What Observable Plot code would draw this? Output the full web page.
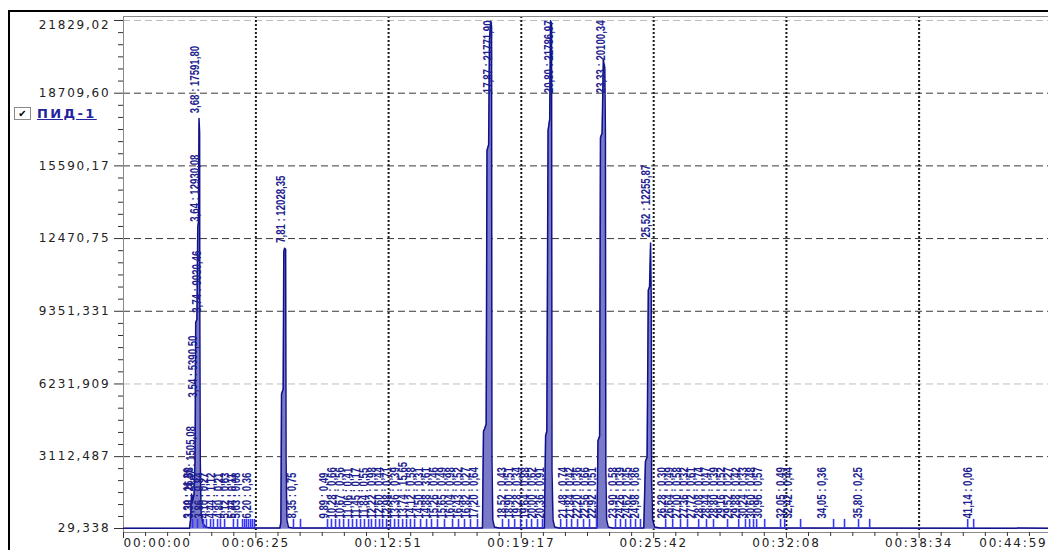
<!DOCTYPE html>
<html><head><meta charset="utf-8">
<script src="https://cdn.jsdelivr.net/npm/d3@7"></script>
<script src="https://cdn.jsdelivr.net/npm/@observablehq/plot@0.6"></script>
<style>
html,body{margin:0;padding:0;background:#fff;}
#wrap{position:relative;width:1048px;height:550px;overflow:hidden;}
#border{position:absolute;left:8px;top:10px;width:1040px;height:540px;border-left:2px solid #000;border-top:2px solid #000;}
#legend{position:absolute;left:14px;top:106px;display:flex;align-items:center;font-family:"DejaVu Sans",sans-serif;}
#chk{width:15px;height:11px;border:1px solid #8a8a8a;background:#fff;font-size:10px;line-height:11px;text-align:center;color:#000;}
#lbl{margin-left:6px;font-size:13px;font-weight:bold;color:#2424a0;text-decoration:underline;letter-spacing:2.4px;}
#chart{position:absolute;left:0;top:0;}
</style>
</head><body>
<div id="wrap">
  <div id="border"></div>
  <div id="chart"></div>
  <div id="legend"><div id="chk">✔</div><div id="lbl">ПИД-1</div></div>
</div>
<script>
// ---- axis ticks ----
const yTickValues = [29.338, 3112.487, 6231.909, 9351.331, 12470.75, 15590.17, 18709.60, 21829.02];
const yTickLabels = ["29,338", "3112,487", "6231,909", "9351,331", "12470,75", "15590,17", "18709,60", "21829,02"];
const xTickValues = [0, 6.4167, 12.85, 19.2833, 25.7, 32.1333, 38.5667, 44.9833];
const xTickLabels = ["00:00:00", "00:06:25", "00:12:51", "00:19:17", "00:25:42", "00:32:08", "00:38:34", "00:44:59"];

// ---- detector trace (minutes, signal) ----
const traceTimes = [0, 3.20, 3.25, 3.30, 3.35, 3.42, 3.47, 3.50, 3.56, 3.60, 3.64, 3.66, 3.69, 3.70, 3.72, 3.76, 3.85, 4.00, 4.30,
  7.58, 7.63, 7.66, 7.74, 7.77, 7.81, 7.86, 7.88, 7.92, 8.00, 8.20,
  17.40, 17.45, 17.50, 17.58, 17.62, 17.70, 17.74, 17.80, 17.84, 17.86, 17.90, 17.98, 18.20,
  20.40, 20.46, 20.52, 20.58, 20.66, 20.70, 20.75, 20.77, 20.82, 20.90, 21.10,
  22.95, 23.00, 23.08, 23.12, 23.20, 23.26, 23.33, 23.36, 23.38, 23.42, 23.50, 23.70,
  25.22, 25.30, 25.38, 25.44, 25.50, 25.55, 25.58, 25.60, 25.65, 25.75, 26.00,
  44.9833];
const traceValues = [45, 45, 400, 1505, 1200, 1500, 3000, 8870, 9000, 12960, 13200, 17621, 17000, 9000, 3000, 700, 250, 80, 50,
  50, 300, 5800, 6000, 11900, 12058, 12000, 3000, 400, 80, 50,
  50, 4200, 4300, 4500, 16250, 16500, 21000, 21801, 21600, 3000, 400, 90, 50,
  50, 4000, 4200, 17100, 17600, 21816, 21700, 2500, 400, 90, 50,
  50, 3800, 4000, 16800, 17000, 20130, 19800, 17000, 2500, 400, 90, 50,
  50, 2900, 3100, 10250, 10400, 12285, 10000, 2000, 400, 90, 50,
  45];

// ---- labelled main peaks ----
const majorTimes = [3.47, 3.54, 3.64, 3.68, 3.74, 7.81, 17.87, 20.80, 23.33, 25.52];
const majorHeights = [1505.08, 5390.50, 12930.08, 17591.80, 9030.46, 12028.35, 21771.90, 21786.97, 20100.34, 12255.87];

// ---- labelled small peaks ----
const smallTimes = [3.30, 3.38, 3.86, 4.10, 4.44, 4.80, 5.12, 5.44, 5.63, 6.20, 8.35, 9.89, 10.28, 10.67, 11.06, 11.45, 11.84, 12.22, 12.60, 12.98,
  13.36, 13.74, 14.12, 14.50, 14.88, 15.26, 15.65, 16.04, 16.43, 16.82, 17.20, 18.52, 18.90, 19.28, 19.64, 20.00, 20.36, 21.48, 21.84, 22.20,
  22.56, 22.92, 23.90, 24.26, 24.62, 24.98, 26.28, 26.64, 27.00, 27.36, 27.72, 28.08, 28.44, 28.80, 29.16, 29.52, 29.88, 30.24, 30.60, 30.96,
  32.05, 32.42, 34.05, 35.80, 41.14];
const smallValues = [11.30, 26.58, 0.84, 0.27, 1.12, 0.21, 0.63, 0.11, 0.08, 0.36, 0.75, 0.49, 0.66, 0.56, 0.41, 0.17, 0.55, 0.98, 0.44, 0.71,
  0.39, 15.65, 0.58, 0.31, 3.61, 0.46, 0.49, 0.98, 0.52, 0.27, 0.64, 0.43, 0.51, 0.34, 0.88, 0.62, 0.91, 0.74, 0.42, 0.36,
  0.66, 0.51, 0.58, 0.39, 0.45, 0.86, 0.30, 0.49, 0.58, 0.32, 0.61, 0.74, 0.47, 0.39, 0.52, 0.27, 0.42, 0.33, 0.48, 0.57,
  0.49, 0.44, 0.36, 0.25, 0.06];

// ---- peak markers near the baseline ----
const markerTimes = [3.35, 3.59, 3.88, 4.02, 4.22, 4.36, 4.56, 4.70, 4.90, 5.33, 5.53, 5.77, 5.87, 5.96, 6.06, 6.16, 6.25, 6.35,
  8.24, 8.58, 9.89, 10.08, 10.28, 10.47, 10.67, 10.91, 11.10, 11.30, 11.49, 11.68, 11.88, 12.02, 12.22, 12.41, 12.56, 12.75, 12.94,
  13.14, 13.33, 13.53, 13.72, 13.91, 14.11, 14.40, 14.69, 14.93, 15.22, 15.56, 15.95, 16.24, 16.53, 16.82, 17.16,
  18.37, 18.67, 18.96, 19.25, 19.54, 19.78, 20.07, 20.31, 21.19, 21.48, 21.72, 22.01, 22.30, 22.59, 22.93,
  23.85, 24.09, 24.34, 24.58, 24.82, 25.06, 26.28, 26.62, 27.00, 27.34, 27.88, 28.26, 28.60, 29.28, 29.82, 30.15, 30.35,
  30.54, 30.69, 31.08, 31.85, 32.05, 32.82, 34.42, 34.95, 35.63, 36.17, 40.92, 41.21];

const yMin = yTickValues[0], yMax = yTickValues[yTickValues.length - 1];
const fmt = v => d3.format(".2f")(v).replace(".", ",");
const trace = traceTimes.map((t, i) => ({t, v: traceValues[i]}));
const major = majorTimes.map((t, i) => ({t, h: majorHeights[i], label: `${fmt(t)} : ${fmt(majorHeights[i])}`}));
const small = smallTimes.map((t, i) => ({t, label: `${fmt(t)} : ${fmt(smallValues[i])}`}));
const yLabel = new Map(yTickValues.map((v, i) => [v, yTickLabels[i]]));
const xLabel = new Map(xTickValues.map((v, i) => [v, xTickLabels[i]]));

const sub = (ticks, n) => d3.pairs(ticks).flatMap(([a, b]) => d3.range(1, n).map(k => a + (b - a) * k / n));
const yMinor = sub(yTickValues, 6);
const xMinor = sub(xTickValues, 6);

const axisFont = "DejaVu Sans";
const peakFont = "Liberation Sans";
const tall = major.filter(d => d.h > 19000);
const normal = major.filter(d => d.h <= 19000);
const peakText = {fill: "#1e1e90", fontSize: 13, fontWeight: "bold", fontFamily: peakFont, rotate: -90, lineAnchor: "bottom", text: "label"};

const chart = Plot.plot({
  width: 1048, height: 550,
  marginLeft: 123, marginRight: -3, marginTop: 16, marginBottom: 18,
  insetTop: 4, insetBottom: 4,
  x: {domain: [0, xTickValues[xTickValues.length - 1]], label: null},
  y: {domain: [yMin, yMax], label: null},
  style: {fontFamily: axisFont, fontSize: "12px", color: "#222", background: "transparent", overflow: "visible"},
  marks: [
    Plot.ruleY(yTickValues.filter(v => v !== yMax && v !== 6231.909 && v !== yMin), {stroke: "#3a3a3a", strokeDasharray: "7,4"}),
    Plot.ruleY([yMax, 6231.909], {stroke: "#bdbdbd", strokeDasharray: "7,4"}),
    Plot.ruleX(xTickValues.slice(1), {stroke: "#1a1a1a", strokeWidth: 2, strokeDasharray: "2,2"}),
    Plot.frame({stroke: "#8a8a8a"}),
    Plot.areaY(trace, {x: "t", y: "v", fill: "#7a7ac8"}),
    Plot.line(trace, {x: "t", y: "v", stroke: "#10108a", strokeWidth: 1.5}),
    Plot.ruleX(markerTimes, {x: d => d, y1: yMin, y2: 420, stroke: "#3636ff", strokeWidth: 1.6}),
    Plot.text(normal, {...peakText, x: "t", y: "h", textAnchor: "start", dy: -6}),
    Plot.text(tall, {...peakText, x: "t", frameAnchor: "top", textAnchor: "end", dy: 4}),
    Plot.text(small, {...peakText, x: "t", frameAnchor: "bottom", textAnchor: "start", dy: -14}),
    Plot.axisY(yTickValues, {tickSize: 9, tickFormat: () => "", stroke: "#333"}),
    Plot.axisY(yMinor, {tickSize: 5, tickFormat: () => "", stroke: "#333"}),
    Plot.axisX(xTickValues, {tickSize: 6, tickFormat: () => "", stroke: "#333"}),
    Plot.axisX(xMinor, {tickSize: 4, tickFormat: () => "", stroke: "#333"}),
    Plot.text(yTickValues.slice(0, -1), {y: d => d, text: d => yLabel.get(d), frameAnchor: "left", textAnchor: "end", dx: -13,
      fill: "#222", fontFamily: axisFont, fontSize: 12}),
    Plot.text([yMax], {y: d => d, text: d => yLabel.get(d), frameAnchor: "left", textAnchor: "end", dx: -13, dy: 5,
      fill: "#222", fontFamily: axisFont, fontSize: 12}),
    Plot.text(xTickValues.slice(1, -1), {x: d => d, text: d => xLabel.get(d), frameAnchor: "bottom", dy: 14,
      fill: "#222", fontFamily: axisFont, fontSize: 12}),
    Plot.text([xTickValues[0]], {x: d => d, text: d => xLabel.get(d), frameAnchor: "bottom", textAnchor: "start", dy: 14,
      fill: "#222", fontFamily: axisFont, fontSize: 12}),
    Plot.text([xTickValues[xTickValues.length - 1]], {x: d => d, text: d => xLabel.get(d), frameAnchor: "bottom", textAnchor: "end", dx: -4, dy: 14,
      fill: "#222", fontFamily: axisFont, fontSize: 12})
  ]
});
chart.querySelectorAll(`g[font-family="${axisFont}"]`).forEach(g => g.style.letterSpacing = "1.8px");
chart.querySelectorAll(`g[font-family="${peakFont}"] text`).forEach(t => {
  const tr = t.getAttribute("transform") || "";
  t.setAttribute("transform", tr + " scale(0.74,1)");
});
document.getElementById("chart").appendChild(chart);
</script>
</body></html>
